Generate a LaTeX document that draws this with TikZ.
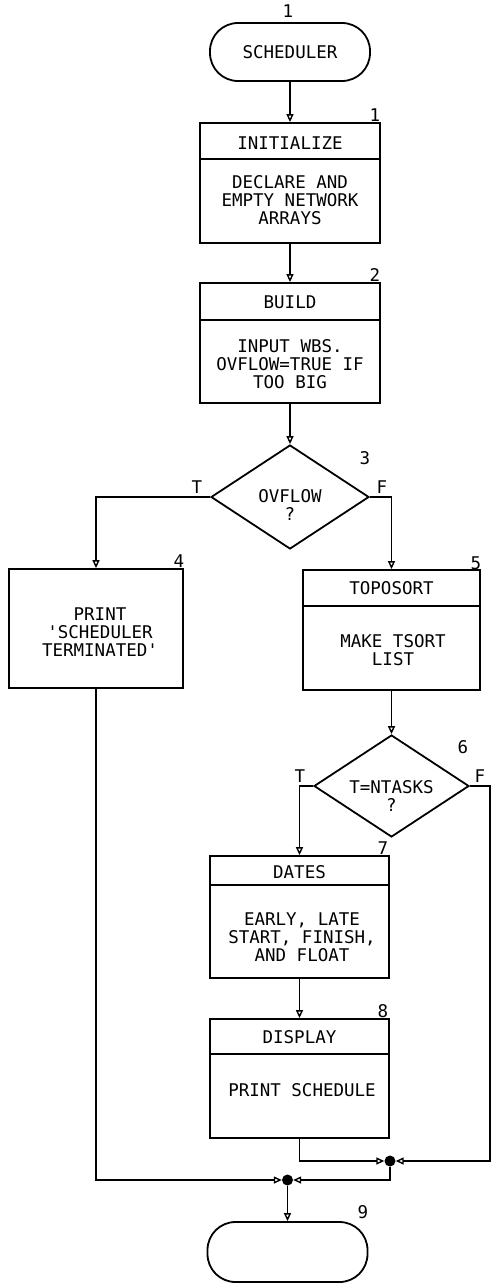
\documentclass[tikz,border=0pt]{standalone}
\usepackage{fontspec}
\setmonofont{DejaVu Sans Mono}
\usetikzlibrary{arrows.meta,shapes.geometric}
\begin{document}
\begin{tikzpicture}[x=1pt,y=-1pt,
  txt/.style={font=\ttfamily\fontsize{17.5}{18}\selectfont, align=center, inner sep=0pt},
  lbl/.style={font=\ttfamily\fontsize{17.5}{18}\selectfont, inner sep=0pt},
  ln/.style={line width=1.8pt, line join=miter},
  arr/.style={ln, -{Triangle[open,length=8pt,width=7pt,line width=1.4pt]}},
  procbox/.style={draw, ln, rectangle, inner sep=0pt},
  term/.style={draw, ln, rectangle, rounded corners=28pt, inner sep=0pt, minimum width=160pt, minimum height=58pt},
  dec/.style={draw, ln, diamond, inner sep=0pt},
  junc/.style={circle, fill=black, inner sep=0pt, minimum size=11pt}
]
\useasboundingbox (0,0) rectangle (492,1283);

% start terminator
\node[term, txt] (t0) at (290,52) {SCHEDULER};
\node[lbl] (l0) at (288,11) {1};

% box 1
\node[procbox, minimum width=180pt, minimum height=120pt] (b1) at (290,183) {};
\draw[ln] (b1.west |- 0,159) -- (b1.east |- 0,159);
\node[txt] (b1t) at (290,143) {INITIALIZE};
\node[txt] (b1b) at (290,200) {DECLARE AND\\EMPTY NETWORK\\ARRAYS};
\node[lbl] (l1) at (375,115) {1};

% box 2
\node[procbox, minimum width=180pt, minimum height=120pt] (b2) at (290,343) {};
\draw[ln] (b2.west |- 0,320) -- (b2.east |- 0,320);
\node[txt] (b2t) at (290,302) {BUILD};
\node[txt] (b2b) at (290,364) {INPUT WBS.\\OVFLOW=TRUE IF\\TOO BIG};
\node[lbl] (l2) at (375,275) {2};

% decision 3
\node[dec, minimum width=158pt, minimum height=104pt] (d3) at (290,497) {};
\node[txt] (d3t) at (290,505) {OVFLOW\\?};
\node[lbl] (l3) at (365,458) {3};
\node[lbl] (t3) at (197,487) {T};
\node[lbl] (f3) at (382,487) {F};

% box 4
\node[procbox, minimum width=174pt, minimum height=119pt] (b4) at (96,628.5) {};
\node[txt] (b4b) at (100,632) {PRINT\\'SCHEDULER\\TERMINATED'};
\node[lbl] (l4) at (179,561) {4};

% box 5
\node[procbox, minimum width=177pt, minimum height=120pt] (b5) at (391.5,630) {};
\draw[ln] (b5.west |- 0,606) -- (b5.east |- 0,606);
\node[txt] (b5t) at (391.5,588) {TOPOSORT};
\node[txt] (b5b) at (393,650) {MAKE TSORT\\LIST};
\node[lbl] (l5) at (476,563) {5};

% decision 6
\node[dec, minimum width=155pt, minimum height=102pt] (d6) at (391.5,786) {};
\node[txt] (d6t) at (391.5,796) {T=NTASKS\\?};
\node[lbl] (l6) at (463,747) {6};
\node[lbl] (t6) at (300,776) {T};
\node[lbl] (f6) at (480,776) {F};

% box 7
\node[procbox, minimum width=179pt, minimum height=122pt] (b7) at (299.5,917) {};
\draw[ln] (b7.west |- 0,885) -- (b7.east |- 0,885);
\node[txt] (b7t) at (299.5,872) {DATES};
\node[txt] (b7b) at (302,937) {EARLY, LATE\\START, FINISH,\\AND FLOAT};
\node[lbl] (l7) at (383,848) {7};

% box 8
\node[procbox, minimum width=179pt, minimum height=119pt] (b8) at (299.5,1078.5) {};
\draw[ln] (b8.west |- 0,1054) -- (b8.east |- 0,1054);
\node[txt] (b8t) at (299.5,1037) {DISPLAY};
\node[txt] (b8b) at (302,1090) {PRINT SCHEDULE};
\node[lbl] (l8) at (383,1011) {8};

% junctions
\node[junc] (j1) at (390,1161) {};
\node[junc] (j2) at (287.5,1180) {};
\coordinate (fr) at (490,1161);

% end terminator
\node[term, minimum height=60pt] (t9) at (287.5,1252) {};
\node[lbl] (l9) at (363,1212) {9};

% connectors
\draw[arr] (t0) -- (b1);
\draw[arr] (b1) -- (b2);
\draw[arr] (b2) -- (d3);
\draw[arr] (d3.west) -| (b4.north);
\draw[arr] (d3.east) -| (b5.north);
\draw[arr] (b5) -- (d6);
\draw[arr] (d6.west) -| (b7.north);
\draw[arr] (b7) -- (b8);
\draw[arr] (d6.east) -| (fr) -- (j1);
\draw[arr] (b8.south) |- (j1);
\draw[arr] (j1) |- (j2);
\draw[arr] (b4.south) |- (j2);
\draw[arr] (j2) -- (t9);
\end{tikzpicture}
\end{document}
